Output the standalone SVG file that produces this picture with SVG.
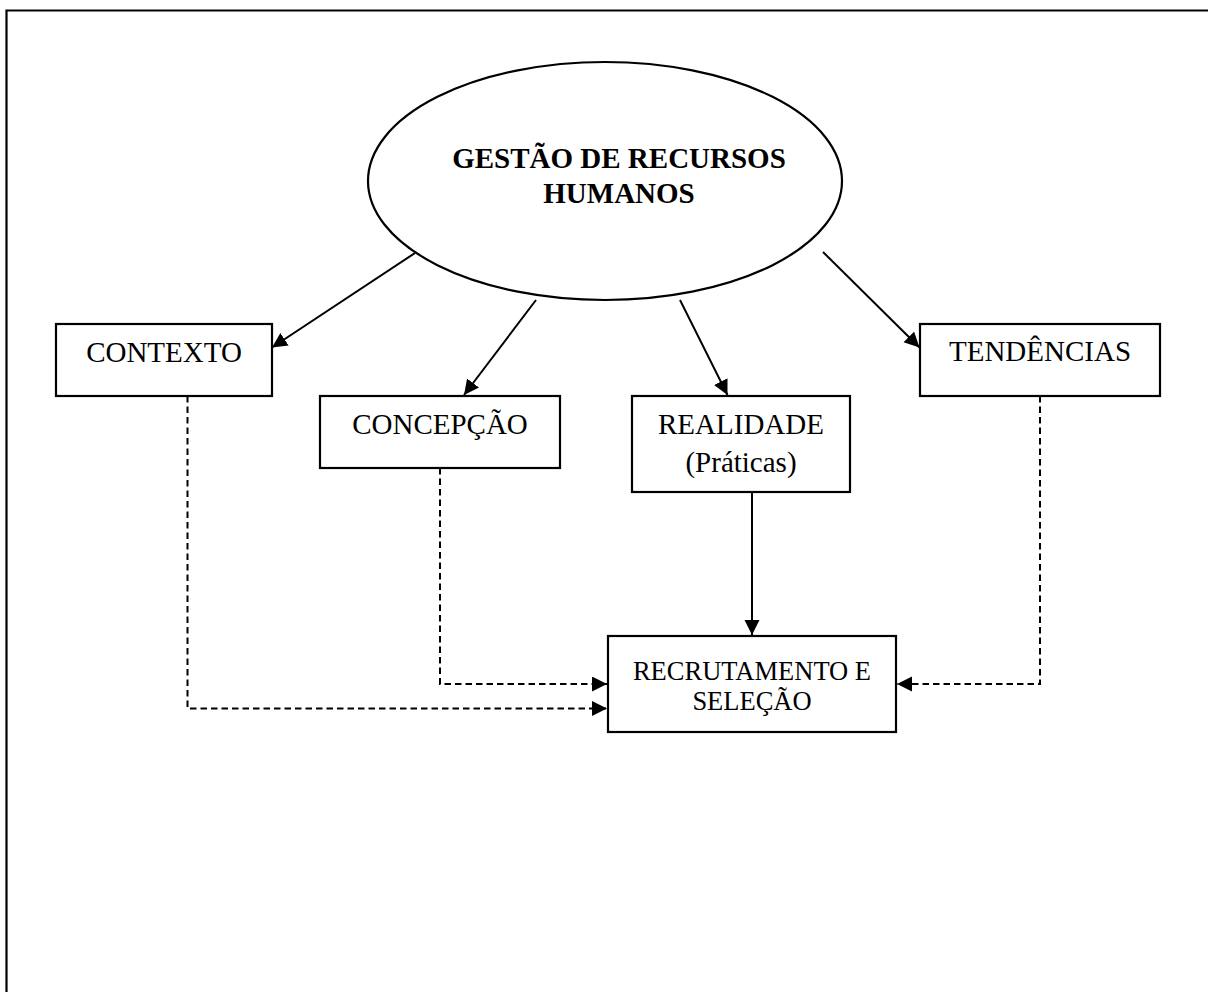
<svg xmlns="http://www.w3.org/2000/svg" width="1208" height="992" viewBox="0 0 1208 992">
<style>
  .box { fill: #fff; stroke: #000; stroke-width: 2.2; }
  .lbl { font-family: "Liberation Serif", "Times New Roman", serif; font-size: 29px; fill: #000; text-anchor: middle; }
  .bold { font-weight: bold; }
  .solid { fill: none; stroke: #000; stroke-width: 2; }
  .dash { fill: none; stroke: #000; stroke-width: 2; stroke-dasharray: 6.5 4; }
</style>
<defs>
  <marker id="arr" markerUnits="userSpaceOnUse" markerWidth="16" markerHeight="16" refX="15" refY="7.5" orient="auto">
    <path d="M0,0 L15,7.5 L0,15 Z" fill="#000"/>
  </marker>
</defs>
<rect width="1208" height="992" fill="#fff"/>
<path d="M6.5,992 V10.5 H1208" fill="none" stroke="#000" stroke-width="2.2"/>

<g id="connectors">
  <line class="solid" x1="415" y1="253" x2="272" y2="347.5" marker-end="url(#arr)"/>
  <line class="solid" x1="536" y1="300" x2="464" y2="395" marker-end="url(#arr)"/>
  <line class="solid" x1="680" y1="300" x2="727.5" y2="395" marker-end="url(#arr)"/>
  <line class="solid" x1="823" y1="252" x2="919.5" y2="347.5" marker-end="url(#arr)"/>
  <line class="solid" x1="752" y1="492" x2="752" y2="635" marker-end="url(#arr)"/>
  <polyline class="dash" points="440,468 440,684 607,684" marker-end="url(#arr)"/>
  <polyline class="dash" points="187.5,396 187.5,708.5 607,708.5" marker-end="url(#arr)"/>
  <polyline class="dash" points="1040,396 1040,684 897,684" marker-end="url(#arr)"/>
</g>

<g id="node-grh">
  <ellipse class="box" cx="605" cy="181" rx="237" ry="119"/>
  <text class="lbl bold" x="619" y="168">GESTÃO DE RECURSOS</text>
  <text class="lbl bold" x="619" y="203">HUMANOS</text>
</g>

<g id="node-contexto">
  <rect class="box" x="56" y="324" width="216" height="72"/>
  <text class="lbl" x="164" y="362">CONTEXTO</text>
</g>

<g id="node-concepcao">
  <rect class="box" x="320" y="396" width="240" height="72"/>
  <text class="lbl" x="440" y="434">CONCEPÇÃO</text>
</g>

<g id="node-realidade">
  <rect class="box" x="632" y="396" width="218" height="96"/>
  <text class="lbl" x="741" y="434">REALIDADE</text>
  <text class="lbl" x="741" y="472">(Práticas)</text>
</g>

<g id="node-tendencias">
  <rect class="box" x="920" y="324" width="240" height="72"/>
  <text class="lbl" x="1040" y="361">TENDÊNCIAS</text>
</g>

<g id="node-recrutamento">
  <rect class="box" x="608" y="636" width="288" height="96"/>
  <text class="lbl" x="752" y="680" style="font-size:26.5px">RECRUTAMENTO E</text>
  <text class="lbl" x="752" y="710" style="font-size:26.5px">SELEÇÃO</text>
</g>
</svg>
